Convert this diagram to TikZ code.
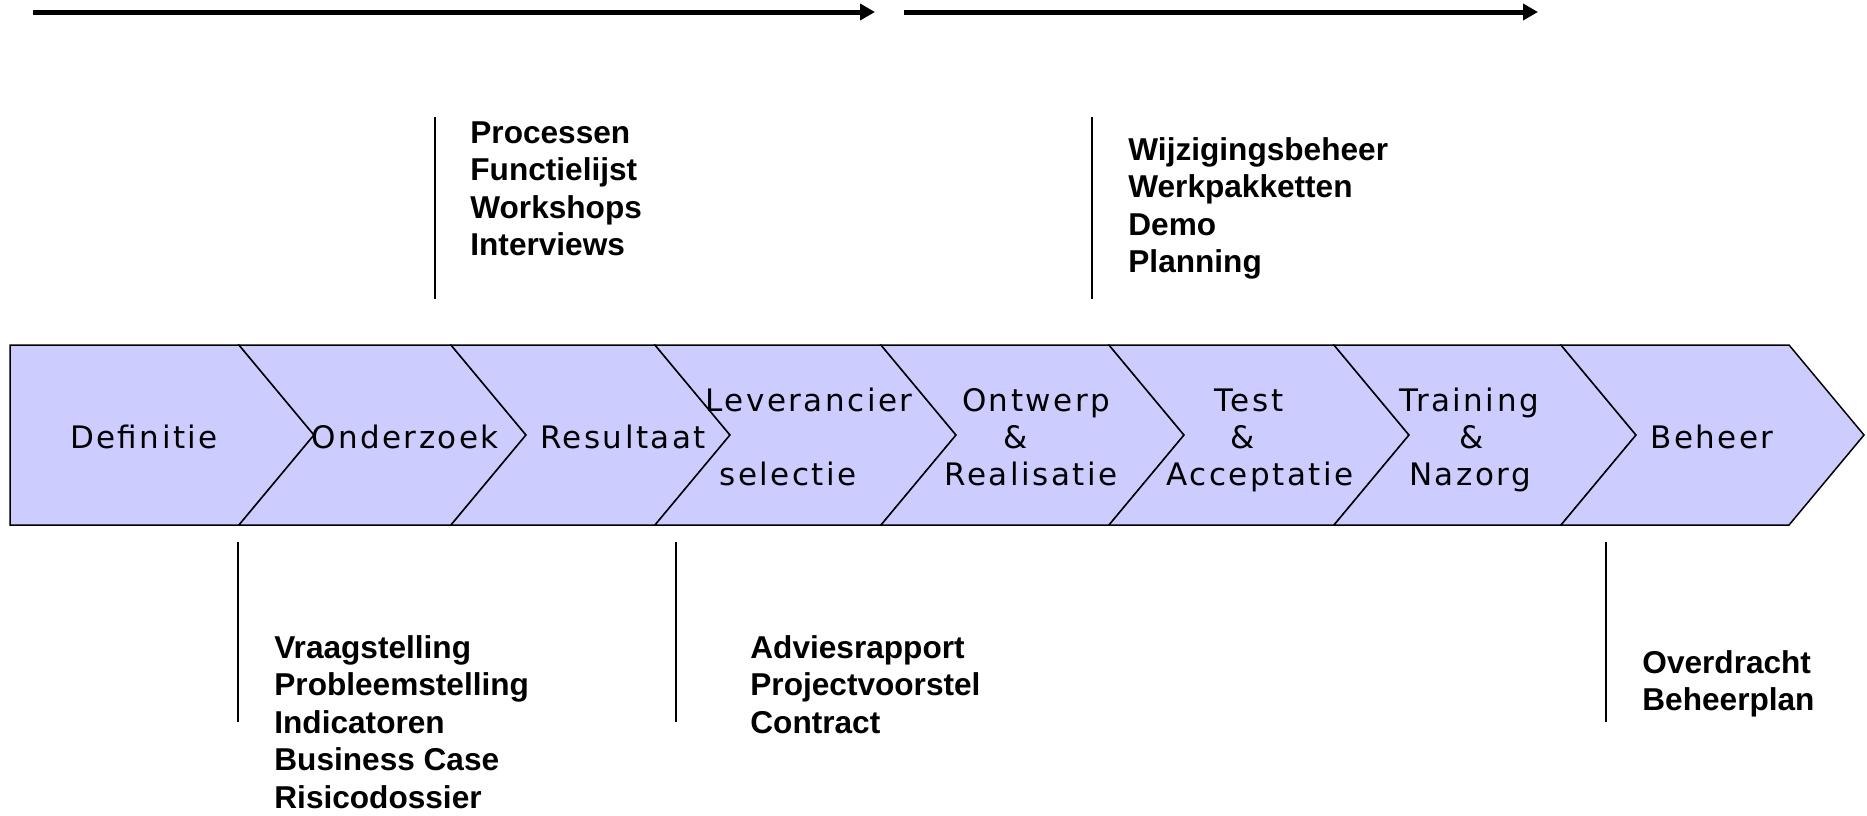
\documentclass[tikz,border=0pt]{standalone}
\usepackage{fontspec}
\setmainfont{Liberation Sans}
\newfontfamily\chevfont[LetterSpace=8]{DejaVu Sans}
\usetikzlibrary{arrows.meta}
\definecolor{chevfill}{HTML}{CCCCFF}
\begin{document}
\begin{tikzpicture}[x=0.5pt,y=-0.5pt,
  chevshape/.style={fill=chevfill,draw=black,line width=0.75pt,line join=miter},
  chevlabel/.style={font=\chevfont\fontsize{15.5pt}{18pt}\selectfont,anchor=base,inner sep=0pt},
  listtext/.style={font=\bfseries\fontsize{15.8pt}{18.75pt}\selectfont,anchor=base west,inner sep=0pt},
  tick/.style={draw=black,line width=1pt},
  timearrow/.style={draw=black,line width=2.5pt,-{Triangle[length=7.5pt,width=8pt]}}]
\useasboundingbox (0,0) rectangle (1867,815);
% top arrows
\coordinate (a1s) at (33,12); \coordinate (a1e) at (875,12);
\coordinate (a2s) at (904,12); \coordinate (a2e) at (1538,12);
\draw[timearrow] (a1s) -- (a1e);
\draw[timearrow] (a2s) -- (a2e);
% chevrons
\path[chevshape] (10,345) -- (239,345) -- (314,435) -- (239,525) -- (10,525) -- cycle;
\path[chevshape] (239,345) -- (451,345) -- (526,435) -- (451,525) -- (239,525) -- (314,435) -- cycle;
\path[chevshape] (451,345) -- (655,345) -- (730,435) -- (655,525) -- (451,525) -- (526,435) -- cycle;
\path[chevshape] (655,345) -- (881,345) -- (956,435) -- (881,525) -- (655,525) -- (730,435) -- cycle;
\path[chevshape] (881,345) -- (1109,345) -- (1184,435) -- (1109,525) -- (881,525) -- (956,435) -- cycle;
\path[chevshape] (1109,345) -- (1334,345) -- (1409,435) -- (1334,525) -- (1109,525) -- (1184,435) -- cycle;
\path[chevshape] (1334,345) -- (1561,345) -- (1636,435) -- (1561,525) -- (1334,525) -- (1409,435) -- cycle;
\path[chevshape] (1561,345) -- (1789,345) -- (1864,435) -- (1789,525) -- (1561,525) -- (1636,435) -- cycle;
% chevron labels
\node[chevlabel] (def) at (144,448) {Definitie};
\node[chevlabel] (ond) at (405,448) {Onderzoek};
\node[chevlabel] (res) at (623,448) {Resultaat};
\node[chevlabel] (lev1) at (809,411) {Leverancier};
\node[chevlabel] (lev2) at (788,485) {selectie};
\node[chevlabel] (ont1) at (1036,411) {Ontwerp};
\node[chevlabel] (ont2) at (1016,448) {\&};
\node[chevlabel] (ont3) at (1031,485) {Realisatie};
\node[chevlabel] (tes1) at (1249,411) {Test};
\node[chevlabel] (tes2) at (1243,448) {\&};
\node[chevlabel] (tes3) at (1260,485) {Acceptatie};
\node[chevlabel] (tra1) at (1469,411) {Training};
\node[chevlabel] (tra2) at (1472,448) {\&};
\node[chevlabel] (tra3) at (1470,485) {Nazorg};
\node[chevlabel] (beh) at (1712,448) {Beheer};
% milestone ticks
\coordinate (t1a) at (435,117); \coordinate (t1b) at (435,299);
\coordinate (t2a) at (1092,117); \coordinate (t2b) at (1092,299);
\coordinate (t3a) at (238,542); \coordinate (t3b) at (238,722);
\coordinate (t4a) at (676,542); \coordinate (t4b) at (676,722);
\coordinate (t5a) at (1606,542); \coordinate (t5b) at (1606,722);
\draw[tick] (t1a) -- (t1b);
\draw[tick] (t2a) -- (t2b);
\draw[tick] (t3a) -- (t3b);
\draw[tick] (t4a) -- (t4b);
\draw[tick] (t5a) -- (t5b);
% lists
\node[listtext] (l1) at (470,143) {\vtop{\hbox{Processen}\hbox{Functielijst}\hbox{Workshops}\hbox{Interviews}}};
\node[listtext] (l2) at (1128,160) {\vtop{\hbox{Wijzigingsbeheer}\hbox{Werkpakketten}\hbox{Demo}\hbox{Planning}}};
\node[listtext] (l3) at (274,658) {\vtop{\hbox{Vraagstelling}\hbox{Probleemstelling}\hbox{Indicatoren}\hbox{Business Case}\hbox{Risicodossier}}};
\node[listtext] (l4) at (750,658) {\vtop{\hbox{Adviesrapport}\hbox{Projectvoorstel}\hbox{Contract}}};
\node[listtext] (l5) at (1642,673) {\vtop{\hbox{Overdracht}\hbox{Beheerplan}}};
\end{tikzpicture}
\end{document}
